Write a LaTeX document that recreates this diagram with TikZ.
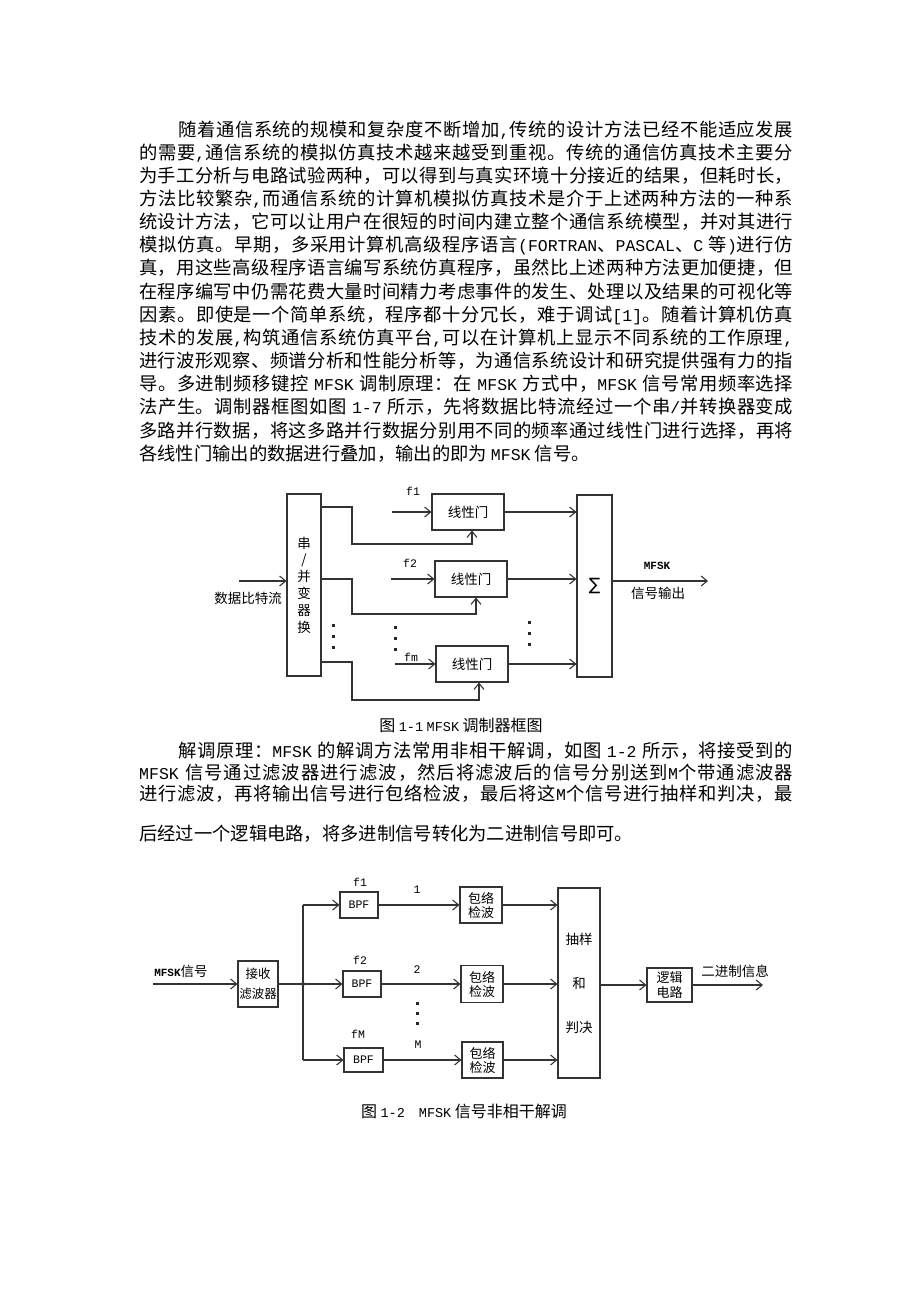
\documentclass[tikz,border=0pt]{standalone}
\usepackage{fontspec}
\setmainfont{Noto Sans CJK SC}
\newfontfamily\enf{Liberation Mono}
\newfontfamily\symf{DejaVu Sans}
\usetikzlibrary{arrows.meta,calc}
\newcommand\en[1]{{\enf\fontsize{16.5}{20}\selectfont #1}}
\newcommand\cen[1]{{\enf\fontsize{13.5}{16}\selectfont #1}}
\newcommand\bodyf{\fontsize{18.3}{22}\selectfont}
\newcommand\capf{\fontsize{16}{18}\selectfont}
\newcommand\dfont{\fontsize{13.5}{15}\selectfont}
\newcommand\smf{\enf\fontsize{11.5}{13}\selectfont}
\newcommand\smbf{\enf\bfseries\fontsize{11}{13}\selectfont}
% inter-character glue so that CJK lines can be justified
\newXeTeXintercharclass\mycjkclass
\newcount\mycjkcnt
\newcommand\mysetrange[2]{%
  \mycjkcnt=#1\relax
  \loop
    \XeTeXcharclass\mycjkcnt=\mycjkclass
  \ifnum\mycjkcnt<#2\relax
    \advance\mycjkcnt by 1\relax
  \repeat}
\mysetrange{"4E00}{"9FFF}
\mysetrange{"3000}{"303F}
\mysetrange{"FF00}{"FFEF}
\XeTeXinterchartokenstate=1
\newcommand\cjkgl{\hskip 0pt plus 1pt\relax}
\XeTeXinterchartoks\mycjkclass\mycjkclass={\cjkgl}
\XeTeXinterchartoks 0 \mycjkclass={\cjkgl}
\XeTeXinterchartoks\mycjkclass 0 ={\cjkgl}
\tikzset{
  ln/.style={line width=1.1pt, draw=black!80},
  arr/.style={ln, -{Straight Barb[length=6pt,width=10pt]}},
  blk/.style={draw=black!80, line width=1.1pt, inner sep=0pt, align=center, font=\dfont},
  lab/.style={inner sep=0pt, font=\dfont},
  flab/.style={inner sep=0pt, font=\smf},
  txt/.style={anchor=base west, inner sep=0pt, font=\bodyf},
  captxt/.style={anchor=base, inner sep=0pt, font=\capf},
  dot/.style={fill=black!85, minimum size=3pt, inner sep=0pt},
  jdot/.style={circle, fill=black!85, minimum size=4pt, inner sep=0pt},
}
\begin{document}
\begin{tikzpicture}[x=1pt,y=-1pt]
\path[use as bounding box, fill=white] (0,0) rectangle (920,1302);

% ---------- paragraph 1 ----------
\node[txt] (p1) at (178,136.0) {\hbox to 615pt{随着通信系统的规模和复杂度不断增加\en{,}传统的设计方法已经不能适应发展}};
\node[txt] (p2) at (139,159.2) {\hbox to 654pt{的需要\en{,}通信系统的模拟仿真技术越来越受到重视。传统的通信仿真技术主要分}};
\node[txt] (p3) at (139,182.3) {\hbox to 654pt{为手工分析与电路试验两种，可以得到与真实环境十分接近的结果，但耗时长，}};
\node[txt] (p4) at (139,205.5) {\hbox to 654pt{方法比较繁杂\en{,}而通信系统的计算机模拟仿真技术是介于上述两种方法的一种系}};
\node[txt] (p5) at (139,228.6) {\hbox to 654pt{统设计方法，它可以让用户在很短的时间内建立整个通信系统模型，并对其进行}};
\node[txt] (p6) at (139,251.8) {\hbox to 654pt{模拟仿真。早期，多采用计算机高级程序语言\en{(FORTRAN}、\en{PASCAL}、\en{C} 等\en{)}进行仿}};
\node[txt] (p7) at (139,274.9) {\hbox to 654pt{真，用这些高级程序语言编写系统仿真程序，虽然比上述两种方法更加便捷，但}};
\node[txt] (p8) at (139,298.1) {\hbox to 654pt{在程序编写中仍需花费大量时间精力考虑事件的发生、处理以及结果的可视化等}};
\node[txt] (p9) at (139,321.2) {\hbox to 654pt{因素。即使是一个简单系统，程序都十分冗长，难于调试\en{[1]}。随着计算机仿真}};
\node[txt] (p10) at (139,344.4) {\hbox to 654pt{技术的发展\en{,}构筑通信系统仿真平台\en{,}可以在计算机上显示不同系统的工作原理\en{,}}};
\node[txt] (p11) at (139,367.5) {\hbox to 654pt{进行波形观察、频谱分析和性能分析等，为通信系统设计和研究提供强有力的指}};
\node[txt] (p12) at (139,390.7) {\hbox to 654pt{导。多进制频移键控 \en{MFSK} 调制原理：在 \en{MFSK} 方式中，\en{MFSK} 信号常用频率选择}};
\node[txt] (p13) at (139,413.8) {\hbox to 654pt{法产生。调制器框图如图 \en{1-7} 所示，先将数据比特流经过一个串\en{/}并转换器变成}};
\node[txt] (p14) at (139,437.0) {\hbox to 654pt{多路并行数据，将这多路并行数据分别用不同的频率通过线性门进行选择，再将}};
\node[txt] (p15) at (139,460.1) {各线性门输出的数据进行叠加，输出的即为 \en{MFSK} 信号。};

% ---------- figure 1 ----------
\node[blk, minimum width=34pt, minimum height=182pt, font=\fontsize{13.5}{16.8}\selectfont] (sp) at (304,585) {串\\/\\并\\变\\器\\换};
\node[blk, minimum width=72pt, minimum height=36pt] (g1) at (468,512) {线性门};
\node[blk, minimum width=72pt, minimum height=36pt] (g2) at (471,579) {线性门};
\node[blk, minimum width=72pt, minimum height=36pt] (gm) at (472,664) {线性门};
\node[blk, minimum width=35pt, minimum height=182pt, font=\symf\fontsize{17}{19}\selectfont] (sum) at (594.5,586) {∑};

\coordinate (in1) at (239,581);
\draw[arr] (in1) -- (in1 -| sp.west);
\node[lab] (inlab) at (248,598) {数据比特流};

\coordinate (c1) at (352,507);
\coordinate (c2) at (352,579);
\coordinate (cm) at (352,662);
\coordinate (r1) at (352,544);
\coordinate (r2) at (352,614);
\coordinate (rm) at (352,700);
\coordinate (g1s) at ($(g1.south)+(4,0)$);
\coordinate (g2s) at ($(g2.south)+(5,0)$);
\coordinate (gms) at ($(gm.south)+(7,0)$);
\draw[arr] (c1 -| sp.east) -- (c1) -- (r1) -- (g1s |- r1) -- (g1s);
\draw[arr] (c2 -| sp.east) -- (c2) -- (r2) -- (g2s |- r2) -- (g2s);
\draw[arr] (cm -| sp.east) -- (cm) -- (rm) -- (gms |- rm) -- (gms);

\coordinate (f1s) at (392,512);
\coordinate (f2s) at (391,579);
\coordinate (fms) at (395,664);
\draw[arr] (f1s) -- (f1s -| g1.west);
\draw[arr] (f2s) -- (f2s -| g2.west);
\draw[arr] (fms) -- (fms -| gm.west);
\node[flab] (f1) at (413,491) {f1};
\node[flab] (f2) at (410,563) {f2};
\node[flab] (fm) at (411,657) {fm};

\draw[arr] (g1.east) -- (g1.east -| sum.west);
\draw[arr] (g2.east) -- (g2.east -| sum.west);
\draw[arr] (gm.east) -- (gm.east -| sum.west);

\coordinate (out1) at (708,581);
\draw[arr] (out1 -| sum.east) -- (out1);
\node[inner sep=0pt, font=\smbf] (mf1) at (657,566) {MFSK};
\node[lab] (so1) at (658,593) {信号输出};

\foreach \i/\x/\y in {a1/333/625, a2/333/636, a3/333/647,
                      b1/395/627, b2/395/638, b3/395/649,
                      c1/529/622, c2/529/633, c3/529/644}
  \node[dot] (dot\i) at (\x,\y) {};

\node[captxt] (cap1) at (461,731) {图 \cen{1-1} \cen{MFSK} 调制器框图};

% ---------- paragraph 2 ----------
\node[txt] (q1) at (178,757) {\hbox to 615pt{解调原理：\en{MFSK} 的解调方法常用非相干解调，如图 \en{1-2} 所示，将接受到的}};
\node[txt] (q2) at (139,779) {\hbox to 654pt{\en{MFSK} 信号通过滤波器进行滤波，然后将滤波后的信号分别送到\en{M}个带通滤波器}};
\node[txt] (q3) at (139,800) {\hbox to 654pt{进行滤波，再将输出信号进行包络检波，最后将这\en{M}个信号进行抽样和判决，最}};
\node[txt] (q4) at (139,840) {后经过一个逻辑电路，将多进制信号转化为二进制信号即可。};

% ---------- figure 2 ----------
\node[blk, minimum width=40pt, minimum height=46pt, font=\fontsize{12.5}{20}\selectfont] (rx) at (258,984) {接收\\滤波器};
\coordinate (in2) at (153,984);
\draw[arr] (in2) -- (rx.west);
\node[lab] (in2lab) at (181,971) {{\smbf MFSK}信号};

\node[jdot] (J) at (303,984) {};
\draw[ln] (rx.east) -- (J);

\node[blk, minimum width=38pt, minimum height=26pt, font=\smf] (b1) at (359,905) {BPF};
\node[blk, minimum width=38pt, minimum height=26pt, font=\smf] (b2) at (362,984) {BPF};
\node[blk, minimum width=39pt, minimum height=24pt, font=\smf] (bm) at (363.5,1060) {BPF};
\draw[ln] (J |- b1) -- (J |- bm);
\draw[arr] (J |- b1) -- (b1.west);
\draw[arr] (J) -- (b2.west);
\draw[arr] (J |- bm) -- (bm.west);
\node[flab] (lf1) at (360,882) {f1};
\node[flab] (lf2) at (360,960) {f2};
\node[flab] (lfm) at (358,1034) {fM};

\node[blk, minimum width=42pt, minimum height=36pt, font=\fontsize{13}{14}\selectfont] (e1) at (481,905) {包络\\检波};
\node[blk, minimum width=42pt, minimum height=37pt, font=\fontsize{13}{14}\selectfont] (e2) at (482,984) {包络\\检波};
\node[blk, minimum width=41pt, minimum height=36pt, font=\fontsize{13}{14}\selectfont] (e3) at (482.5,1060) {包络\\检波};
\draw[arr] (b1.east) -- (b1.east -| e1.west);
\draw[arr] (b2.east) -- (b2.east -| e2.west);
\draw[arr] (bm.east) -- (bm.east -| e3.west);
\node[flab] (n1) at (417,890) {1};
\node[flab] (n2) at (417,970) {2};
\node[flab] (nm) at (418,1045) {M};
\foreach \i/\y in {1/1003, 2/1013, 3/1023}
  \node[dot] (vd\i) at (417,\y) {};

\node[blk, minimum width=42pt, minimum height=190pt, font=\fontsize{13.5}{44}\selectfont] (sd) at (579,983) {抽样\\和\\判决};
\draw[arr] (e1.east) -- (e1.east -| sd.west);
\draw[arr] (e2.east) -- (e2.east -| sd.west);
\draw[arr] (e3.east) -- (e3.east -| sd.west);

\node[blk, minimum width=45pt, minimum height=34pt, font=\fontsize{13}{15}\selectfont] (lg) at (669.5,985) {逻辑\\电路};
\draw[arr] (sd.east |- lg) -- (lg.west);
\coordinate (out2) at (763,985);
\draw[arr] (lg.east) -- (out2);
\node[lab] (outlab2) at (735,971) {二进制信息};

\node[captxt] (cap2) at (464,1117) {图 \cen{1-2}\hspace{14pt}\cen{MFSK} 信号非相干解调};
\end{tikzpicture}
\end{document}
